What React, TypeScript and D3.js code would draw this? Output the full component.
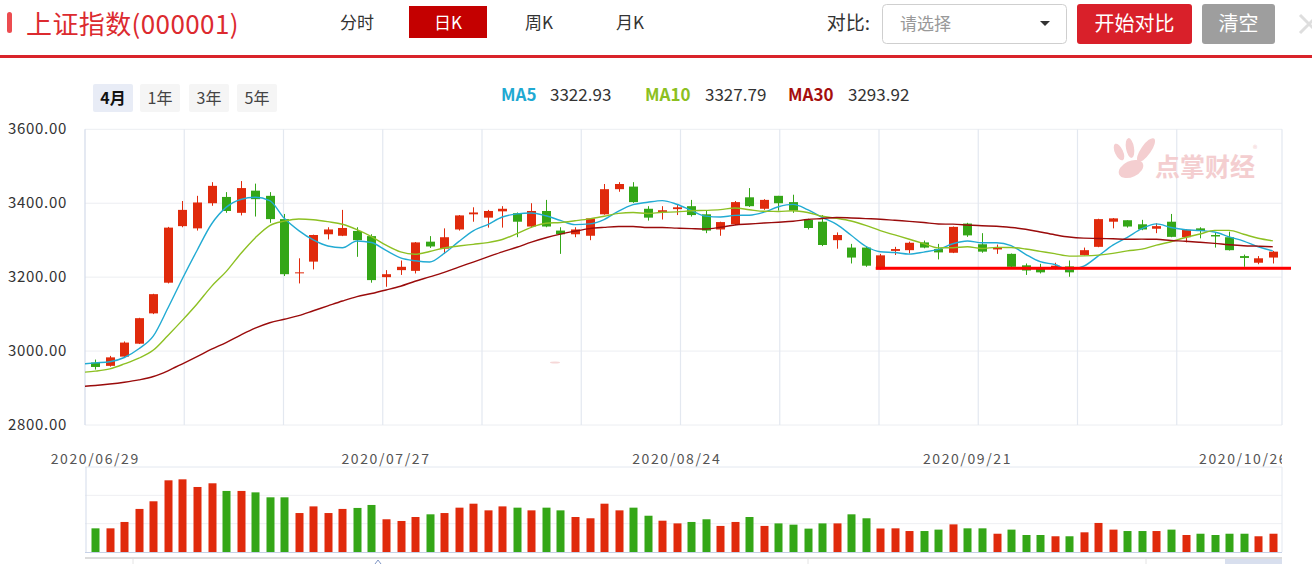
import React from "react";
import * as d3 from "d3";

// ---------- data ----------
const dates = [
  "2020/06/29","2020/06/30","2020/07/01","2020/07/02","2020/07/03","2020/07/06","2020/07/07","2020/07/08","2020/07/09","2020/07/10",
  "2020/07/13","2020/07/14","2020/07/15","2020/07/16","2020/07/17","2020/07/20","2020/07/21","2020/07/22","2020/07/23","2020/07/24",
  "2020/07/27","2020/07/28","2020/07/29","2020/07/30","2020/07/31","2020/08/03","2020/08/04","2020/08/05","2020/08/06","2020/08/07",
  "2020/08/10","2020/08/11","2020/08/12","2020/08/13","2020/08/14","2020/08/17","2020/08/18","2020/08/19","2020/08/20","2020/08/21",
  "2020/08/24","2020/08/25","2020/08/26","2020/08/27","2020/08/28","2020/08/31","2020/09/01","2020/09/02","2020/09/03","2020/09/04",
  "2020/09/07","2020/09/08","2020/09/09","2020/09/10","2020/09/11","2020/09/14","2020/09/15","2020/09/16","2020/09/17","2020/09/18",
  "2020/09/21","2020/09/22","2020/09/23","2020/09/24","2020/09/25","2020/09/28","2020/09/29","2020/09/30","2020/10/09","2020/10/12",
  "2020/10/13","2020/10/14","2020/10/15","2020/10/16","2020/10/19","2020/10/20","2020/10/21","2020/10/22","2020/10/23","2020/10/26",
  "2020/10/27","2020/10/28",
];

const opens = [
  2969,2960,2985,3020,3102,3185,3338,3332,3400,3417,
  3374,3434,3420,3357,3212,3242,3316,3312,3325,3311,
  3200,3219,3217,3296,3277,3329,3370,3361,3378,3373,
  3337,3379,3326,3316,3312,3370,3438,3445,3385,3376,
  3384,3392,3370,3329,3343,3416,3385,3420,3403,3355,
  3350,3300,3280,3280,3221,3271,3273,3294,3276,3266,
  3345,3289,3275,3263,3232,3224,3222,3229,3260,3282,
  3350,3354,3343,3331,3350,3308,3332,3314,3308,3257,
  3239,3253,
];
const highs = [
  2977,2987,3026,3090,3155,3336,3406,3420,3457,3430,
  3460,3453,3430,3371,3251,3315,3335,3382,3335,3316,
  3219,3245,3295,3311,3332,3368,3389,3382,3392,3375,
  3400,3409,3335,3335,3360,3452,3457,3457,3392,3392,
  3395,3409,3380,3350,3406,3441,3411,3420,3423,3358,
  3368,3321,3290,3284,3263,3282,3296,3299,3290,3337,
  3347,3319,3288,3264,3237,3236,3239,3245,3280,3358,
  3360,3354,3355,3346,3371,3330,3335,3320,3323,3261,
  3257,3271,
];
const lows = [
  2950,2958,2984,3019,3100,3183,3335,3326,3393,3374,
  3367,3364,3347,3203,3183,3221,3302,3311,3255,3185,
  3174,3206,3210,3279,3263,3326,3350,3334,3334,3308,
  3335,3335,3263,3308,3300,3369,3431,3401,3353,3356,
  3368,3364,3319,3312,3341,3390,3382,3380,3374,3329,
  3284,3277,3237,3228,3220,3260,3264,3278,3248,3265,
  3309,3266,3263,3227,3206,3210,3221,3201,3259,3281,
  3332,3334,3327,3319,3308,3294,3305,3280,3272,3228,
  3235,3237,
];
const closes = [
  2957,2983,3023,3089,3154,3334,3382,3402,3447,3379,
  3441,3411,3357,3208,3213,3314,3329,3333,3300,3192,
  3208,3228,3294,3283,3308,3367,3375,3379,3385,3350,
  3379,3337,3316,3329,3359,3438,3452,3403,3361,3381,
  3389,3368,3326,3349,3403,3392,3409,3400,3380,3333,
  3287,3314,3253,3231,3259,3276,3293,3280,3267,3336,
  3313,3269,3281,3228,3218,3213,3231,3213,3273,3357,
  3359,3337,3329,3338,3309,3328,3325,3310,3273,3252,
  3251,3269,
];
// closes of the 30 sessions before the window (for the moving averages)
const priorCloses = [
  2870.34,2868.46,2875.42,2898.58,2883.74,2867.92,2813.77,2817.97,2846.55,2836.80,
  2836.80,2852.35,2915.43,2921.40,2923.37,2919.25,2930.80,2937.77,2943.75,2943.32,
  2920.90,2919.74,2890.03,2931.75,2935.87,2939.32,2967.63,2965.27,2970.62,2979.55,
];
const volumes = [
  167,167,212,304,358,506,513,459,485,431,
  431,421,386,386,275,322,275,304,311,332,
  231,219,247,266,275,313,341,294,322,313,
  294,313,294,247,238,341,294,313,256,221,
  202,212,231,184,212,247,184,202,193,165,
  202,202,266,238,166,167,148,148,158,195,
  167,167,129,158,120,120,111,111,139,205,
  158,148,148,148,158,120,129,120,129,129,
  111,129,
];
const tickDates = ["2020/06/29","2020/07/27","2020/08/24","2020/09/21","2020/10/26"];
const priceTicks = [3600, 3400, 3200, 3000, 2800];
const maPeriods = [5, 10, 30];
const maLegendValues = ["3322.93", "3327.79", "3293.92"];
const supportLevel = 3224;
const supportStartIndex = 54;
const periodTabs = ["4月", "1年", "3年", "5年"];
const viewTabs = ["分时", "日K", "周K", "月K"];

// ---------- styles ----------
const FONT = "'Noto Sans CJK SC', 'Noto Sans', sans-serif";
const RED = "#e02a0c";
const GREEN = "#34a617";
const MA_COLORS = ["#22abd3", "#8dc023", "#9a0b0b"];
const MA_TEXT = ["#1fa9d2", "#8cc021", "#a50f0f"];

export default function App() {
  const plotL = 85, plotR = 1282;
  const priceTop = 129.3, priceBot = 425;
  const volTop = 467, volBot = 552;

  const x = d3.scaleBand<number>().domain(d3.range(dates.length)).range([88, 1280]);
  const step = x.step();
  const cx = (i: number) => (x(i) as number) + x.bandwidth() / 2;
  const y = d3.scaleLinear().domain([2800, 3600]).range([priceBot, priceTop]);
  const yv = d3.scaleLinear().domain([0, 600]).range([volBot, volTop]);

  const allCloses = [...priorCloses, ...closes];
  const off = priorCloses.length;
  const maSeries = maPeriods.map((n) => {
    const pts: [number, number][] = [];
    for (let i = -1; i < closes.length; i++) {
      const j = i + off;
      const v = d3.mean(allCloses.slice(j - n + 1, j + 1)) as number;
      pts.push([cx(0) + i * step, y(v)]);
    }
    return pts;
  });
  const line = d3.line().curve(d3.curveMonotoneX);

  const vGrid = d3.range(12).map((k) => 85 + k * 99.25);
  const bodyW = 9;
  const volW = 8;

  return (
    <svg
      width={1312}
      height={564}
      style={{ position: "absolute", left: 0, top: 0, fontFamily: FONT, background: "#fff" }}
    >
      <defs>
        <clipPath id="plotClip">
          <rect x={plotL} y={priceTop - 2} width={plotR - plotL} height={priceBot - priceTop + 4} />
        </clipPath>
        <clipPath id="labelClip">
          <rect x={0} y={440} width={plotR} height={40} />
        </clipPath>
      </defs>

      {/* ---------- header ---------- */}
      <rect x={7} y={12} width={5} height={21} rx={2.5} fill="#ec4c50" />
      <text x={26} y={34} fontSize={26} fill="#dc2a2f" letterSpacing={0.4}>上证指数(000001)</text>
      <rect x={409} y={6} width={78} height={32} fill="#c40000" />
      {viewTabs.map((t, k) => {
        const centers = [357, 448, 539, 630];
        return (
          <text key={t} x={centers[k]} y={29} fontSize={17} textAnchor="middle" fill={k === 1 ? "#fff" : "#333"}>
            {t}
          </text>
        );
      })}
      <text x={870} y={30} fontSize={19} textAnchor="end" fill="#333">对比:</text>
      <rect x={882.5} y={4.5} width={184} height={39} rx={4} fill="#fff" stroke="#cfcfcf" />
      <text x={900} y={30} fontSize={17} fill="#999">请选择</text>
      <path d="M1040,21 L1050,21 L1045,26 Z" fill="#333" />
      <rect x={1077} y={4} width={115} height={40} rx={3} fill="#d9202a" />
      <text x={1134.5} y={31} fontSize={20} textAnchor="middle" fill="#fff">开始对比</text>
      <rect x={1202} y={4} width={73} height={40} rx={3} fill="#9e9e9e" />
      <text x={1238.5} y={31} fontSize={20} textAnchor="middle" fill="#fff">清空</text>
      <path d="M1300,15 L1318,33 M1318,15 L1300,33" stroke="#dedede" strokeWidth={3} />
      <rect x={0} y={55} width={1312} height={3} fill="#d9232a" />

      {/* ---------- period tabs & legend ---------- */}
      {periodTabs.map((t, k) => {
        const xs = [93, 140, 189, 237];
        return (
          <g key={t}>
            <rect x={xs[k]} y={84} width={40} height={28} rx={2} fill={k === 0 ? "#e8ecf6" : "#f5f5f5"} />
            <text
              x={xs[k] + 20}
              y={104}
              fontSize={16}
              textAnchor="middle"
              fill={k === 0 ? "#111" : "#444"}
              fontWeight={k === 0 ? 700 : 400}
            >
              {t}
            </text>
          </g>
        );
      })}
      {maPeriods.map((n, k) => {
        const xs = [501, 645, 788];
        const vx = [550, 705, 848];
        return (
          <g key={n}>
            <text x={xs[k]} y={101} fontSize={17} fontWeight={700} fill={MA_TEXT[k]}>
              {"MA" + n}
            </text>
            <text x={vx[k]} y={101} fontSize={17} fill="#333">{maLegendValues[k]}</text>
          </g>
        );
      })}

      {/* ---------- price grid ---------- */}
      {priceTicks.map((t) => (
        <g key={t}>
          <line x1={plotL} x2={plotR} y1={y(t)} y2={y(t)} stroke="#eceef2" strokeWidth={1} />
          <text x={8} y={y(t) + 5} fontSize={15} fill="#333" letterSpacing={0.7}>{t.toFixed(2)}</text>
        </g>
      ))}
      {vGrid.map((gx, k) => (
        <line key={k} x1={gx} x2={gx} y1={priceTop} y2={priceBot} stroke={k === 0 ? "#d3dbea" : "#e3e8f0"} strokeWidth={1.2} />
      ))}
      <line x1={plotR} x2={plotR} y1={priceTop} y2={priceBot} stroke="#e3e8f0" strokeWidth={1.2} />

      {/* watermark */}
      <g fill="#f3c9cb" opacity={0.9}>
        <ellipse cx={1119} cy={152} rx={4} ry={9} transform="rotate(-25 1119 152)" />
        <ellipse cx={1130} cy={148} rx={4} ry={10} transform="rotate(-10 1130 148)" />
        <ellipse cx={1146} cy={150} rx={5} ry={14} transform="rotate(35 1146 150)" />
        <ellipse cx={1131} cy={169} rx={13} ry={8} transform="rotate(-25 1131 169)" />
        <text x={1155} y={176} fontSize={25} fontWeight={700}>点掌财经</text>
        <text x={1253} y={152} fontSize={9}>®</text>
      </g>
      <ellipse cx={555} cy={362.5} rx={5} ry={1} fill="#f6d8d8" />

      {/* ---------- candles ---------- */}
      <g clipPath="url(#plotClip)">
        {closes.map((c, i) => {
          const o = opens[i];
          const col = c >= o ? RED : GREEN;
          const xc = Math.round(cx(i)) + 0.5;
          const top = y(Math.max(o, c));
          const h = Math.max(1, Math.abs(y(o) - y(c)));
          return (
            <g key={i}>
              <line x1={xc} x2={xc} y1={y(highs[i])} y2={y(lows[i])} stroke={col} strokeWidth={1} />
              <rect x={xc - bodyW / 2} y={top} width={bodyW} height={h} fill={col} />
            </g>
          );
        })}
        {maSeries.map((pts, k) => (
          <path key={k} d={line(pts) as string} fill="none" stroke={MA_COLORS[k]} strokeWidth={1.4} />
        ))}
      </g>
      <rect
        x={cx(supportStartIndex) - bodyW / 2}
        y={y(supportLevel) - 1.5}
        width={1291 - (cx(supportStartIndex) - bodyW / 2)}
        height={3}
        fill="#ff0000"
      />

      {/* ---------- date labels ---------- */}
      <g clipPath="url(#labelClip)">
        {tickDates.map((d) => (
          <text key={d} x={cx(dates.indexOf(d))} y={464} fontSize={14} textAnchor="middle" fill="#555" letterSpacing={1.6}>
            {d}
          </text>
        ))}
      </g>

      {/* ---------- volume ---------- */}
      {[volTop, (volTop * 2 + volBot) / 3, (volTop + volBot * 2) / 3].map((gy, k) => (
        <line key={k} x1={plotL} x2={plotR} y1={gy} y2={gy} stroke={k === 0 ? "#e3e8f0" : "#eeeff2"} />
      ))}
      <line x1={plotL + 1} x2={plotL + 1} y1={volTop} y2={volBot} stroke="#d3dbea" />
      <line x1={plotR} x2={plotR} y1={volTop} y2={volBot} stroke="#e3e8f0" />
      {volumes.map((v, i) => {
        const col = closes[i] >= opens[i] ? RED : GREEN;
        return (
          <rect key={i} x={Math.round(cx(i)) + 0.5 - volW / 2} y={yv(v)} width={volW} height={volBot - yv(v)} fill={col} />
        );
      })}
      <line x1={plotL} x2={plotR} y1={volBot + 0.5} y2={volBot + 0.5} stroke="#c6d1e6" strokeWidth={1} />

      {/* slider strip */}
      <rect x={plotL} y={557} width={plotR - plotL} height={2} fill="#dcdcdc" />
      <rect x={1225} y={559} width={57} height={5} fill="#d8dfee" />
      {[133, 808, 1146].map((lx) => (
        <line key={lx} x1={lx} x2={lx} y1={559} y2={564} stroke="#e4e4e4" />
      ))}
      <path d="M375,564 L378,560 L381,564" fill="none" stroke="#7f95c4" strokeWidth={1} />
    </svg>
  );
}
